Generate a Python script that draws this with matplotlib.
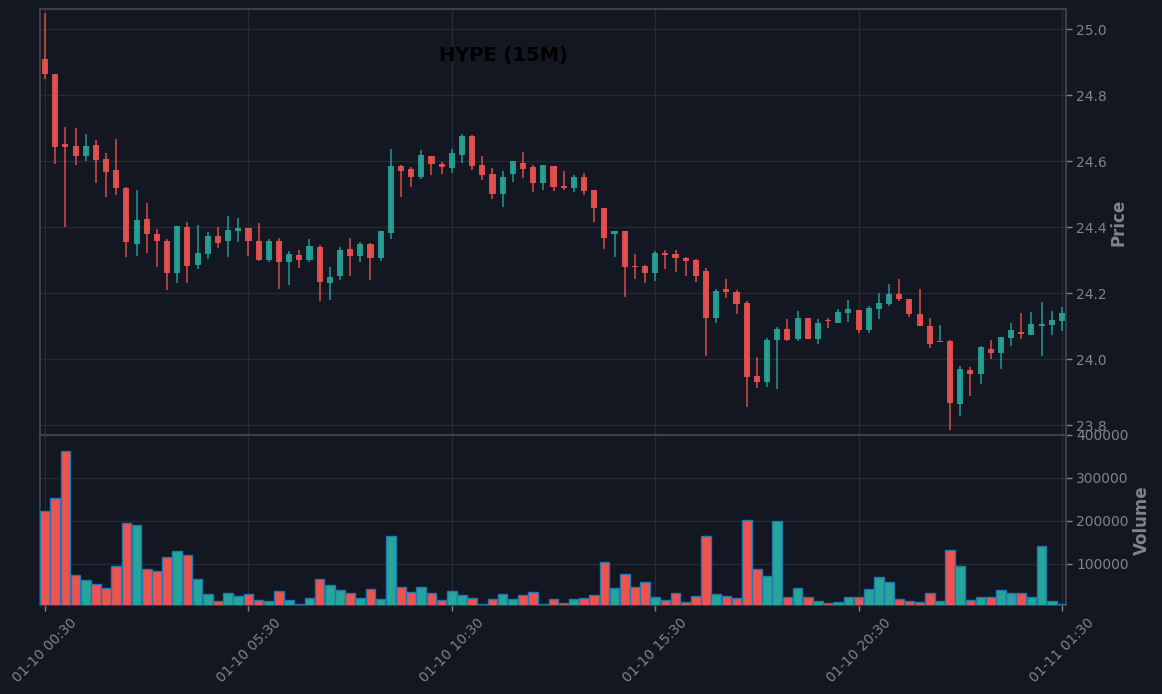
import matplotlib
matplotlib.use("Agg")
import matplotlib.pyplot as plt
import numpy as np

opens = [24.910, 24.865, 24.653, 24.646, 24.617, 24.649, 24.607, 24.574, 24.519, 24.350,
         24.425, 24.380, 24.359, 24.260, 24.401, 24.287, 24.320, 24.374, 24.357, 24.390,
         24.398, 24.359, 24.302, 24.359, 24.296, 24.316, 24.302, 24.340, 24.232, 24.251,
         24.334, 24.314, 24.349, 24.308, 24.384, 24.586, 24.577, 24.551, 24.616, 24.592,
         24.581, 24.620, 24.677, 24.589, 24.562, 24.502, 24.560, 24.595, 24.583, 24.535,
         24.586, 24.525, 24.520, 24.553, 24.513, 24.459, 24.381, 24.389, 24.283, 24.283,
         24.263, 24.322, 24.319, 24.308, 24.301, 24.268, 24.126, 24.213, 24.204, 24.171,
         23.949, 23.932, 24.057, 24.092, 24.060, 24.125, 24.063, 24.120, 24.111, 24.141,
         24.149, 24.090, 24.151, 24.169, 24.198, 24.183, 24.137, 24.101, 24.051, 24.056,
         23.866, 23.968, 23.954, 24.031, 24.020, 24.066, 24.083, 24.075, 24.102, 24.104,
         24.116]
highs = [25.048, 24.865, 24.703, 24.700, 24.682, 24.665, 24.624, 24.667, 24.521, 24.513,
         24.473, 24.394, 24.364, 24.404, 24.415, 24.406, 24.385, 24.400, 24.433, 24.427,
         24.398, 24.412, 24.365, 24.367, 24.327, 24.331, 24.365, 24.345, 24.280, 24.340,
         24.367, 24.356, 24.353, 24.389, 24.637, 24.589, 24.582, 24.634, 24.616, 24.597,
         24.637, 24.682, 24.680, 24.616, 24.579, 24.570, 24.601, 24.627, 24.588, 24.589,
         24.586, 24.570, 24.558, 24.565, 24.513, 24.459, 24.389, 24.389, 24.318, 24.285,
         24.328, 24.331, 24.331, 24.310, 24.303, 24.276, 24.213, 24.242, 24.210, 24.177,
         24.006, 24.064, 24.097, 24.121, 24.145, 24.125, 24.122, 24.125, 24.151, 24.180,
         24.149, 24.162, 24.200, 24.228, 24.242, 24.183, 24.212, 24.124, 24.104, 24.059,
         23.980, 23.976, 24.040, 24.059, 24.068, 24.111, 24.139, 24.143, 24.173, 24.145,
         24.159]
lows = [24.848, 24.591, 24.402, 24.588, 24.602, 24.535, 24.491, 24.497, 24.309, 24.312,
        24.321, 24.281, 24.209, 24.230, 24.230, 24.273, 24.303, 24.336, 24.309, 24.355,
        24.312, 24.299, 24.294, 24.212, 24.224, 24.276, 24.294, 24.176, 24.179, 24.239,
        24.252, 24.294, 24.239, 24.297, 24.366, 24.493, 24.523, 24.547, 24.557, 24.563,
        24.566, 24.596, 24.575, 24.544, 24.485, 24.461, 24.538, 24.548, 24.508, 24.514,
        24.511, 24.514, 24.508, 24.499, 24.415, 24.333, 24.311, 24.188, 24.242, 24.230,
        24.238, 24.273, 24.264, 24.252, 24.235, 24.009, 24.111, 24.185, 24.138, 23.855,
        23.912, 23.915, 23.909, 24.054, 24.054, 24.063, 24.045, 24.094, 24.111, 24.114,
        24.079, 24.079, 24.121, 24.160, 24.176, 24.127, 24.102, 24.033, 24.051, 23.785,
        23.827, 23.888, 23.924, 24.000, 23.970, 24.039, 24.063, 24.075, 24.011, 24.073,
        24.087]
closes = [24.866, 24.644, 24.644, 24.617, 24.646, 24.605, 24.569, 24.520, 24.354, 24.422,
          24.381, 24.357, 24.260, 24.404, 24.284, 24.322, 24.374, 24.351, 24.392, 24.398,
          24.357, 24.302, 24.359, 24.296, 24.319, 24.302, 24.343, 24.235, 24.249, 24.331,
          24.314, 24.349, 24.308, 24.389, 24.586, 24.572, 24.551, 24.619, 24.593, 24.584,
          24.625, 24.677, 24.587, 24.557, 24.502, 24.553, 24.601, 24.577, 24.535, 24.589,
          24.523, 24.520, 24.553, 24.511, 24.457, 24.369, 24.389, 24.281, 24.281, 24.263,
          24.322, 24.317, 24.308, 24.299, 24.251, 24.126, 24.207, 24.205, 24.169, 23.947,
          23.932, 24.059, 24.092, 24.057, 24.125, 24.063, 24.110, 24.117, 24.143, 24.153,
          24.090, 24.156, 24.171, 24.198, 24.184, 24.138, 24.102, 24.047, 24.056, 23.869,
          23.971, 23.954, 24.037, 24.020, 24.068, 24.089, 24.078, 24.107, 24.107, 24.119,
          24.140]
volumes = [223000, 253500, 362000, 74400, 62800, 53500, 44200, 95300, 195300, 190700,
           88400, 83700, 116300, 130200, 120900, 65100, 30200, 14000, 32600, 25600,
           30200, 16300, 14000, 37200, 16300, 7800, 20900, 65100, 51200, 39500,
           32600, 20900, 41900, 18600, 165100, 46500, 34900, 46500, 32600, 16300,
           37200, 27900, 20900, 7800, 18600, 30200, 18600, 27900, 34900, 7800,
           18600, 9300, 18600, 20900, 27900, 104700, 44200, 76700, 46500, 58100,
           23300, 16300, 32600, 11600, 25600, 165100, 30200, 25600, 20900, 202300,
           88400, 72100, 200000, 23300, 44200, 23300, 14000, 9300, 11600, 23300,
           23300, 41900, 69800, 58100, 18600, 14000, 11600, 32600, 14000, 132600,
           95300, 16300, 23300, 23300, 39500, 32600, 32600, 23300, 141900, 14000, 7800]
tick_positions = [0, 20, 40, 60, 80, 100]
tick_labels = ["01-10 00:30", "01-10 05:30", "01-10 10:30", "01-10 15:30", "01-10 20:30", "01-11 01:30"]
title = "HYPE (15M)"

BG = "#131722"
UP = "#26a69a"
DOWN = "#ef5350"
GRID = "#262a34"
SPINE = "#3b3f48"
TXT = "#80838a"

o = np.array(opens); h = np.array(highs); l = np.array(lows); c = np.array(closes)
v = np.array(volumes)
x = np.arange(len(o))
up = c >= o
cols = np.where(up, UP, DOWN)

fig = plt.figure(figsize=(11.62, 6.94), dpi=100, facecolor=BG)
ax1 = fig.add_axes([40/1162, 1-435/694, 1026/1162, 426/694])
ax2 = fig.add_axes([40/1162, 1-605/694, 1026/1162, 170/694], sharex=ax1)

for ax in (ax1, ax2):
    ax.set_facecolor(BG)
    for s in ax.spines.values():
        s.set_color(SPINE)
        s.set_linewidth(1.5)
    ax.grid(True, color=GRID, linewidth=1.0)
    ax.set_axisbelow(True)
    ax.yaxis.tick_right()
    ax.yaxis.set_label_position("right")
    ax.tick_params(colors=TXT, labelsize=10, length=4, width=1)
    ax.tick_params(axis='y', labelcolor=TXT)

# candles
ax1.vlines(x, l, h, colors=cols, linewidth=1.1, alpha=0.9, zorder=2)
bottoms = np.minimum(o, c)
heights = np.maximum(np.abs(c - o), 0.002)
ax1.bar(x, heights, 0.6, bottom=bottoms, color=cols, alpha=0.9, linewidth=0, zorder=3)
ax1.set_ylim(23.7706, 25.0615)
ax1.set_yticks([23.8, 24.0, 24.2, 24.4, 24.6, 24.8, 25.0])
ax1.set_yticklabels(["23.8", "24.0", "24.2", "24.4", "24.6", "24.8", "25.0"])
ax1.set_ylabel("Price", color=TXT, fontsize=12, fontweight="bold", labelpad=2)
ax1.tick_params(axis='x', which='both', bottom=False, labelbottom=False)

# volume
ax2.bar(x, v, 0.95, color=cols, edgecolor="#1f77b4", linewidth=1.0, zorder=3)
ax2.set_ylim(4500, 398500)
ax2.set_yticks([100000, 200000, 300000, 400000])
ax2.set_yticklabels(["100000", "200000", "300000", "400000"])
ax2.set_ylabel("Volume", color=TXT, fontsize=12, fontweight="bold", labelpad=3)

ax2.set_xlim(-0.5, 100.4)
ax2.set_xticks(tick_positions)
ax2.set_xticklabels(tick_labels, rotation=45, color=TXT, fontsize=10)

fig.text(503/1162, 1-56/694, title, color="black", fontsize=14, fontweight="bold",
         ha="center", va="center")

fig.savefig("out.png", dpi=100, facecolor=BG)
